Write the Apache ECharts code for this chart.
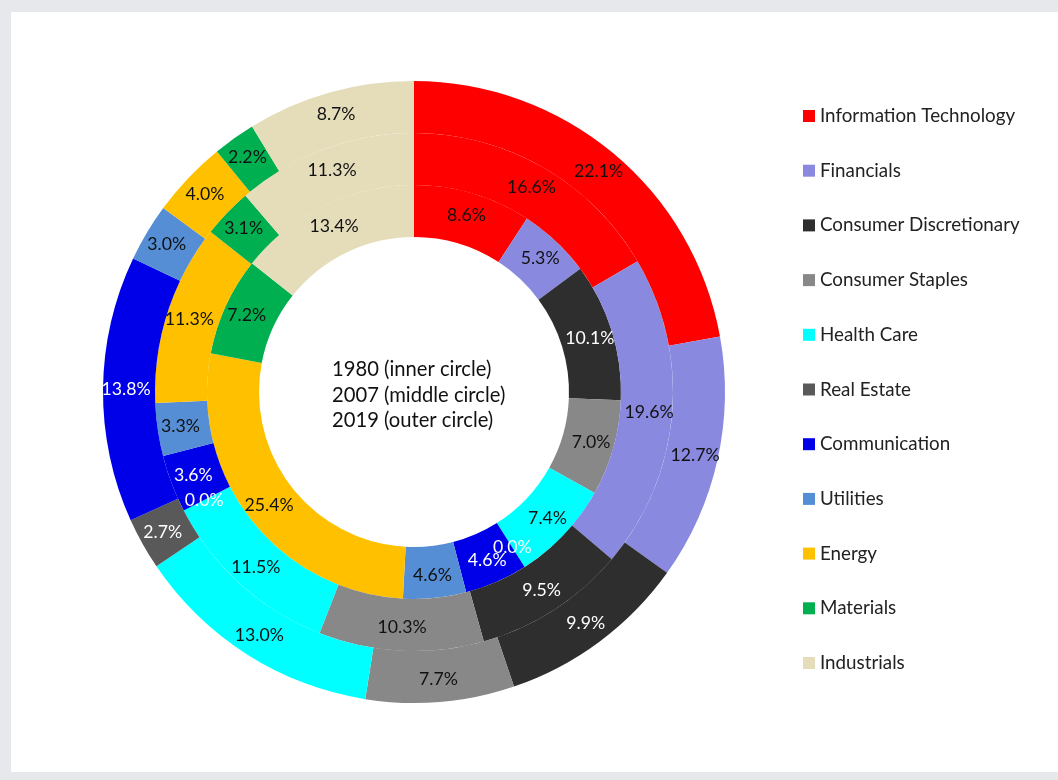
<!DOCTYPE html>
<html>
<head>
<meta charset="utf-8">
<title>Sector weights 1980 / 2007 / 2019</title>
<script src="https://cdn.jsdelivr.net/npm/echarts@6/dist/echarts.min.js"></script>
<style>
  html, body { margin: 0; padding: 0; }
  body { width: 1058px; height: 780px; background: #e7e8ec; position: relative; overflow: hidden; }
  #chart { position: absolute; left: 11px; top: 12px; width: 1047px; height: 760px; background: #ffffff; }
</style>
</head>
<body>
<div id="chart"></div>
<script>
// Sector names, in the order they run clockwise from 12 o'clock
const sectors = [
  'Information Technology', 'Financials', 'Consumer Discretionary', 'Consumer Staples',
  'Health Care', 'Real Estate', 'Communication', 'Utilities', 'Energy', 'Materials', 'Industrials'
];

// Sector weights (%) per year
const weights1980 = [8.6, 5.3, 10.1, 7.0, 7.4, 0.0, 4.6, 4.6, 25.4, 7.2, 13.4];
const weights2007 = [16.6, 19.6, 9.5, 10.3, 11.5, 0.0, 3.6, 3.3, 11.3, 3.1, 11.3];
const weights2019 = [22.1, 12.7, 9.9, 7.7, 13.0, 2.7, 13.8, 3.0, 4.0, 2.2, 8.7];

const sectorColors = [
  '#ff0000', '#8989e0', '#2e2e2e', '#888888', '#00ffff', '#595959',
  '#0000e8', '#558ed5', '#ffc000', '#00b050', '#e5ddba'
];
// dark slices carry white labels
const labelColors = [
  '#111', '#111', '#ffffff', '#111', '#111', '#ffffff',
  '#ffffff', '#111', '#111', '#111', '#111'
];

const FONT = 'Lato, "Open Sans", sans-serif';
const CENTER = [403, 380];

function ring(name, values, radius) {
  return {
    name: name,
    type: 'pie',
    center: CENTER,
    radius: radius,
    startAngle: 90,
    clockwise: true,
    animation: false,
    silent: true,
    avoidLabelOverlap: false,
    minShowLabelAngle: 0,
    labelLayout: { hideOverlap: false },
    itemStyle: { borderWidth: 0 },
    emphasis: { disabled: true },
    labelLine: { show: false },
    label: {
      show: true,
      position: 'inside',
      fontFamily: FONT,
      fontSize: 17.7,
      formatter: p => p.value.toFixed(1) + '%'
    },
    data: sectors.map((s, i) => ({
      name: s,
      value: values[i],
      itemStyle: { color: sectorColors[i] },
      label: { color: labelColors[i] }
    }))
  };
}

const chart = echarts.init(document.getElementById('chart'), null, { renderer: 'canvas' });
chart.setOption({
  backgroundColor: '#ffffff',
  animation: false,
  legend: {
    orient: 'vertical',
    left: 792,
    top: 94,
    padding: 0,
    itemWidth: 12,
    itemHeight: 12,
    itemGap: 34.7,
    icon: 'rect',
    selectedMode: false,
    data: sectors,
    textStyle: { fontFamily: FONT, fontSize: 18.8, color: '#222', lineHeight: 20 }
  },
  graphic: [{
    type: 'text',
    left: 321,
    top: 345,
    silent: true,
    style: {
      text: '1980 (inner circle)\n2007 (middle circle)\n2019 (outer circle)',
      fontFamily: FONT,
      fontSize: 20.2,
      lineHeight: 25.4,
      fill: '#111',
      textAlign: 'left'
    }
  }],
  series: [
    ring('1980', weights1980, [155, 207]),
    ring('2007', weights2007, [207, 259]),
    ring('2019', weights2019, [259, 311])
  ]
});
</script>
</body>
</html>
